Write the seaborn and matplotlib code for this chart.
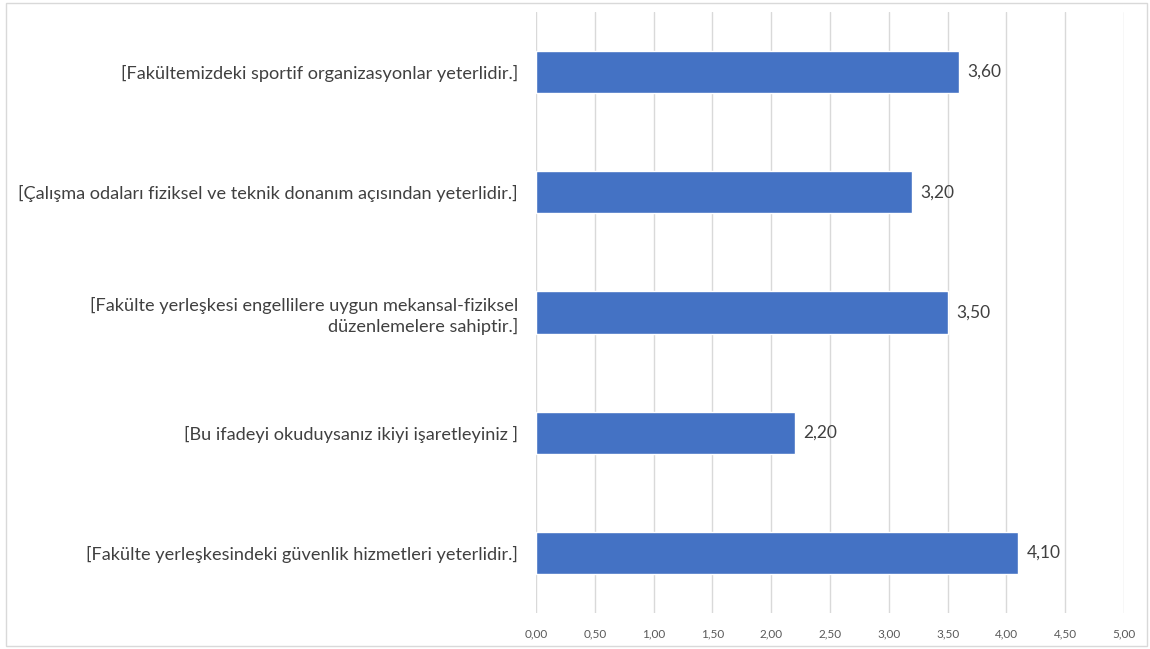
import numpy as np
import matplotlib.pyplot as plt
import pandas as pd
import seaborn as sns
from matplotlib.patches import Rectangle

categories = [
    "[Fakültemizdeki sportif organizasyonlar yeterlidir.]",
    "[Çalışma odaları fiziksel ve teknik donanım açısından yeterlidir.]",
    "[Fakülte yerleşkesi engellilere uygun mekansal-fiziksel\ndüzenlemelere sahiptir.]",
    "[Bu ifadeyi okuduysanız ikiyi işaretleyiniz ]",
    "[Fakülte yerleşkesindeki güvenlik hizmetleri yeterlidir.]",
]
values = [3.60, 3.20, 3.50, 2.20, 4.10]
x_ticks = [0, 0.5, 1, 1.5, 2, 2.5, 3, 3.5, 4, 4.5, 5]

df = pd.DataFrame({"item": categories, "score": values})

sns.set_style("white")
plt.rcParams["font.family"] = ["Lato", "DejaVu Sans"]

fig = plt.figure(figsize=(11.5, 6.49), dpi=100)
ax = fig.add_axes([0.4661, 0.0555, 0.5113, 0.926])

sns.barplot(data=df, y="item", x="score", color="#4472C4", width=0.35,
            orient="h", ax=ax, saturation=1)

ax.set_xlim(0, 5)
ax.set_xticks(x_ticks)
ax.set_xticklabels([f"{t:.2f}".replace(".", ",") for t in x_ticks],
                   fontsize=8.5, color="#595959")
ax.tick_params(axis="y", labelsize=13.1, colors="#404040", length=0, pad=13)
ax.tick_params(axis="x", length=0, pad=11)
for lbl in ax.get_yticklabels():
    lbl.set_linespacing(1.3)
ax.set_xlabel("")
ax.set_ylabel("")
for s in ax.spines.values():
    s.set_visible(False)
ax.grid(axis="x", color="#d9d9d9", linewidth=1)
ax.set_axisbelow(True)

for i, v in enumerate(values):
    ax.text(v + 0.07, i, f"{v:.2f}".replace(".", ","), va="center", ha="left",
            fontsize=12.5, color="#404040")

fig.patches.append(Rectangle((0.005, 0.004), 0.992, 0.992, transform=fig.transFigure,
                             fill=False, edgecolor="#d9d9d9", linewidth=1))

fig.savefig("out.png", dpi=100)
